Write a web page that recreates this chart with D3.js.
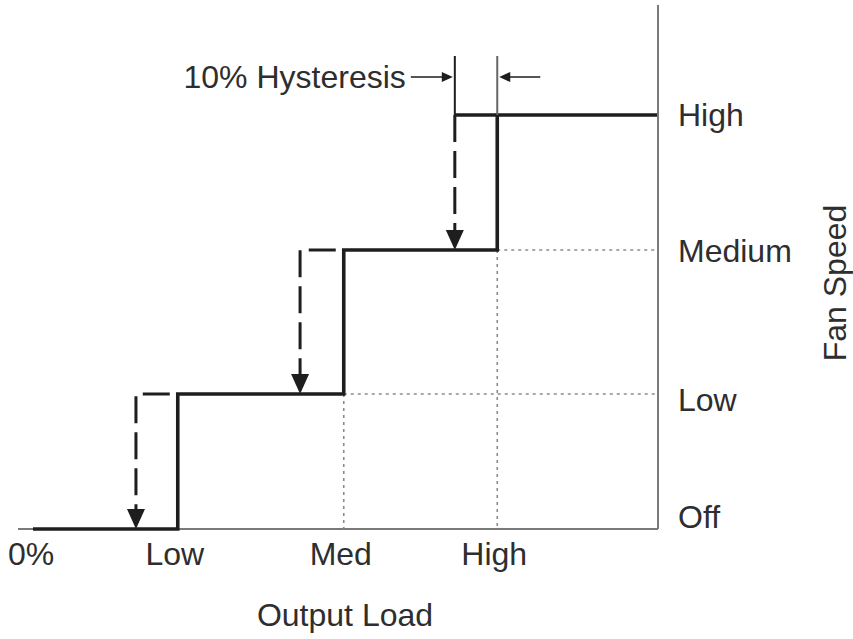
<!DOCTYPE html>
<html>
<head>
<meta charset="utf-8">
<script src="https://cdn.jsdelivr.net/npm/d3@7"></script>
<style>
  html, body { margin: 0; padding: 0; background: #fff; }
  text { font-family: "Liberation Sans", Arial, Helvetica, sans-serif; fill: #2e2e2e; }
</style>
</head>
<body>
<svg id="chart" width="853" height="639"></svg>
<script>
// ---- Data ----
const loadLabels = ["0%", "Low", "Med", "High"];
const loadTicks = [0, 23.2, 49.8, 74.4];          // output load positions (% of full scale)
const speedLevels = ["Off", "Low", "Medium", "High"];
const stepUpLoad = [23.2, 49.8, 74.4];             // load where fan steps up to next level
const stepDownLoad = [16.5, 42.8, 67.6];           // load where fan steps back down (hysteresis)
const hysteresisLabel = "10% Hysteresis";
const xTitle = "Output Load";
const yTitle = "Fan Speed";

// ---- Layout ----
const svg = d3.select("#chart");
const x = d3.scaleLinear().domain([0, 100]).range([33, 657]);
const y = d3.scaleLinear().domain([0, 1, 2, 3]).range([529, 394, 250, 115]);
const labelShift = [-12, 6, 1, 0];  // small vertical nudges for right-side labels

const FONT = 32;
const dark = "#1e1e1e";
const gray = "#7a7a7a";

// Axis frame: baseline and right vertical
svg.append("line")
  .attr("x1", x(0) - 15).attr("x2", x(100) + 1)
  .attr("y1", y(0)).attr("y2", y(0))
  .attr("stroke", gray).attr("stroke-width", 2);
svg.append("line")
  .attr("x1", x(100) + 1).attr("x2", x(100) + 1)
  .attr("y1", 5).attr("y2", y(0))
  .attr("stroke", gray).attr("stroke-width", 2);

// Dotted guides
[1, 2].forEach(i => {
  svg.append("line")
    .attr("x1", x(stepUpLoad[i])).attr("x2", x(stepUpLoad[i]))
    .attr("y1", y(i)).attr("y2", y(0))
    .attr("stroke", "#8a8a8a").attr("stroke-width", 1.6)
    .attr("stroke-dasharray", "3,4");
  svg.append("line")
    .attr("x1", x(stepUpLoad[i])).attr("x2", x(100))
    .attr("y1", y(i)).attr("y2", y(i))
    .attr("stroke", "#8a8a8a").attr("stroke-width", 1.6)
    .attr("stroke-dasharray", "3,4");
});

// Dashed step-down paths with arrowheads
const arrowH = 20, arrowW = 9;
stepDownLoad.forEach((d, i) => {
  const xd = x(d), yTop = y(i + 1), yBot = y(i);
  const p = d3.path();
  if (i < stepDownLoad.length - 1) {
    p.moveTo(x(stepUpLoad[i]) - 8, yTop);
    p.lineTo(xd, yTop);
  } else {
    p.moveTo(xd, yTop);
  }
  p.lineTo(xd, yBot - arrowH + 2);
  svg.append("path")
    .attr("d", p.toString())
    .attr("fill", "none").attr("stroke", dark).attr("stroke-width", 3)
    .attr("stroke-dasharray", "27,9");
  svg.append("path")
    .attr("d", `M${xd - arrowW},${yBot - arrowH} L${xd + arrowW},${yBot - arrowH} L${xd},${yBot} Z`)
    .attr("fill", dark);
});

// Solid step-up path
const pts = [[0, 0]];
stepUpLoad.forEach((u, i) => { pts.push([u, i]); pts.push([u, i + 1]); });
pts.push([100, speedLevels.length - 1]);
svg.append("path")
  .attr("d", d3.line().x(d => x(d[0])).y(d => y(d[1]))(pts))
  .attr("fill", "none").attr("stroke", dark).attr("stroke-width", 3.6)
  .attr("stroke-linejoin", "miter").attr("stroke-linecap", "butt");
// top level held from step-down point
const topLvl = speedLevels.length - 1;
svg.append("line")
  .attr("x1", x(stepDownLoad[topLvl - 1])).attr("x2", x(stepUpLoad[topLvl - 1]))
  .attr("y1", y(topLvl)).attr("y2", y(topLvl))
  .attr("stroke", dark).attr("stroke-width", 3.6);

// Hysteresis annotation
const hx1 = x(stepDownLoad[topLvl - 1]), hx2 = x(stepUpLoad[topLvl - 1]);
const ay = 77;
svg.append("line").attr("x1", hx1).attr("x2", hx1).attr("y1", 56).attr("y2", y(topLvl))
  .attr("stroke", dark).attr("stroke-width", 2);
svg.append("line").attr("x1", hx2).attr("x2", hx2).attr("y1", 56).attr("y2", y(topLvl))
  .attr("stroke", "#666").attr("stroke-width", 2);
svg.append("line").attr("x1", hx1 - 44).attr("x2", hx1 - 10).attr("y1", ay).attr("y2", ay)
  .attr("stroke", "#555").attr("stroke-width", 2);
svg.append("path").attr("d", `M${hx1 - 2},${ay} L${hx1 - 13},${ay - 5} L${hx1 - 13},${ay + 5} Z`).attr("fill", dark);
svg.append("line").attr("x1", hx2 + 10).attr("x2", hx2 + 43).attr("y1", ay).attr("y2", ay)
  .attr("stroke", "#555").attr("stroke-width", 2);
svg.append("path").attr("d", `M${hx2 + 2},${ay} L${hx2 + 13},${ay - 5} L${hx2 + 13},${ay + 5} Z`).attr("fill", dark);
svg.append("text")
  .attr("x", hx1 - 49).attr("y", ay + 11)
  .attr("text-anchor", "end").attr("font-size", FONT)
  .text(hysteresisLabel);

// X labels
svg.selectAll("text.xlab").data(loadTicks).enter().append("text")
  .attr("class", "xlab")
  .attr("x", (d, i) => x(d) - (i === 0 ? 2 : 3))
  .attr("y", 565)
  .attr("text-anchor", "middle").attr("font-size", FONT)
  .text((d, i) => loadLabels[i]);

// Y labels (right side)
svg.selectAll("text.ylab").data(speedLevels).enter().append("text")
  .attr("class", "ylab")
  .attr("x", 678)
  .attr("y", (d, i) => y(i) + labelShift[i] + 11)
  .attr("text-anchor", "start").attr("font-size", FONT)
  .text(d => d);

// Titles
svg.append("text")
  .attr("x", 345).attr("y", 626)
  .attr("text-anchor", "middle").attr("font-size", FONT)
  .text(xTitle);
svg.append("text")
  .attr("transform", "translate(846,283) rotate(-90)")
  .attr("text-anchor", "middle").attr("font-size", FONT)
  .text(yTitle);
</script>
</body>
</html>
